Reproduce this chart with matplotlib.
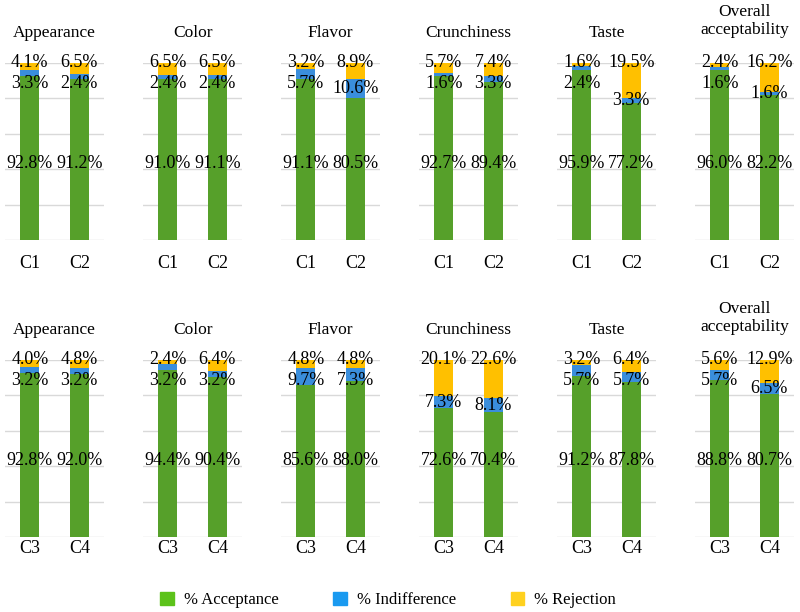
import numpy as np
import matplotlib
matplotlib.use('Agg')
import matplotlib.pyplot as plt
from matplotlib.patches import Patch

plt.rcParams['font.family'] = ['Liberation Serif', 'DejaVu Serif']

titles = ['Appearance', 'Color', 'Flavor', 'Crunchiness', 'Taste', 'Overall\nacceptability']

# linha de cima: C1, C2
top_labels = ['C1', 'C2']
top_acc = [[92.8, 91.2], [91.0, 91.1], [91.1, 80.5], [92.7, 89.4], [95.9, 77.2], [96.0, 82.2]]
top_ind = [[3.3, 2.4], [2.4, 2.4], [5.7, 10.6], [1.6, 3.3], [2.4, 3.3], [1.6, 1.6]]
top_rej = [[4.1, 6.5], [6.5, 6.5], [3.2, 8.9], [5.7, 7.4], [1.6, 19.5], [2.4, 16.2]]

# linha de baixo: C3, C4
bot_labels = ['C3', 'C4']
bot_acc = [[92.8, 92.0], [94.4, 90.4], [85.6, 88.0], [72.6, 70.4], [91.2, 87.8], [88.8, 80.7]]
bot_ind = [[3.2, 3.2], [3.2, 3.2], [9.7, 7.3], [7.3, 8.1], [5.7, 5.7], [5.7, 6.5]]
bot_rej = [[4.0, 4.8], [2.4, 6.4], [4.8, 4.8], [20.1, 22.6], [3.2, 6.4], [5.6, 12.9]]

c_acc = '#56a02a'
c_ind = '#3a8edc'
c_rej = '#ffc000'

W, H = 800, 612
fig = plt.figure(figsize=(W / 100, H / 100), dpi=100)


def draw_row(y_top, labels, acc, ind, rej, tick_pad):
    for i in range(6):
        x0 = 5 + i * 138
        ax = fig.add_axes([x0 / W, 1 - (y_top + 177) / H, 99 / W, 177 / H])
        x = np.arange(2)
        a = np.array(acc[i])
        b = np.array(ind[i])
        r = np.array(rej[i])
        ax.bar(x, a, width=0.38, color=c_acc, zorder=2)
        ax.bar(x, b, bottom=a, width=0.38, color=c_ind, zorder=2)
        ax.bar(x, r, bottom=a + b, width=0.38, color=c_rej, zorder=2)
        for j in range(2):
            ax.text(x[j], 43, f'{a[j]:.1f}%', ha='center', va='center', fontsize=13, zorder=3)
            yb = min(a[j] + b[j] / 2, 88.5)
            ax.text(x[j], yb, f'{b[j]:.1f}%', ha='center', va='center', fontsize=13, zorder=3)
            ax.text(x[j], 100.5, f'{r[j]:.1f}%', ha='center', va='center', fontsize=13, zorder=3)
        ax.set_xlim(-0.5, 1.5)
        ax.set_ylim(0, 100)
        ax.set_yticks([0, 20, 40, 60, 80, 100])
        ax.yaxis.grid(True, color='#d9d9d9', linewidth=1, zorder=0)
        ax.set_yticklabels([])
        ax.tick_params(axis='y', length=0)
        ax.set_xticks(x)
        ax.set_xticklabels(labels, fontsize=13)
        ax.tick_params(axis='x', length=0, pad=tick_pad)
        for s in ax.spines.values():
            s.set_visible(False)
        nl = titles[i].count('\n') + 1
        off = 30 if nl == 1 else 42
        ax.text(0.5, 1 + off / 177, titles[i], transform=ax.transAxes, ha='center',
                va='center', fontsize=12.5, linespacing=1.1)


draw_row(63, top_labels, top_acc, top_ind, top_rej, 10.5)
draw_row(360, bot_labels, bot_acc, bot_ind, bot_rej, 2)

handles = [Patch(color='#5cc21a'), Patch(color='#1a9af0'), Patch(color='#ffd11f')]
fig.legend(handles, ['% Acceptance', '% Indifference', '% Rejection'], loc='center',
           bbox_to_anchor=(0.485, 1 - 600 / H), ncol=3, frameon=False, fontsize=12,
           handlelength=0.8, handleheight=0.8, columnspacing=3.3, handletextpad=0.6)

fig.savefig('out.png', dpi=100)
